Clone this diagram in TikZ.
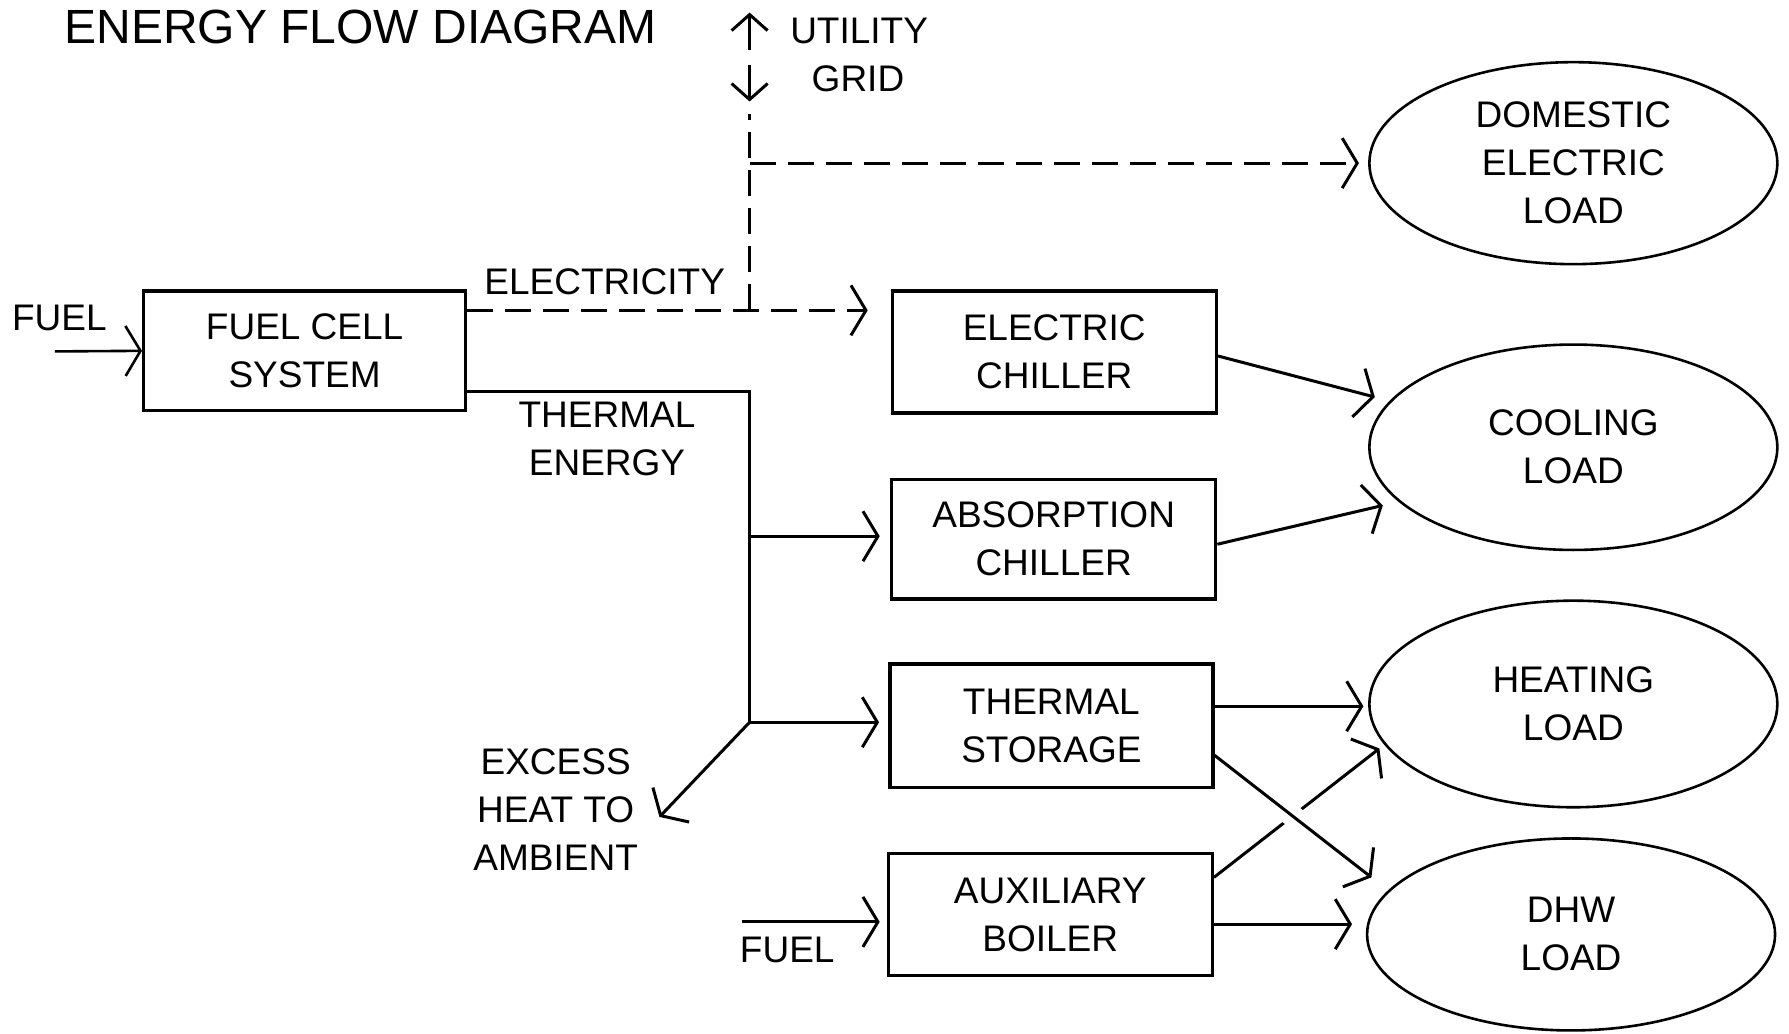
\documentclass[tikz,border=0pt]{standalone}
\usepackage{fontspec}
\setmainfont{Liberation Sans}
\usetikzlibrary{arrows.meta,shapes.geometric,calc}
\begin{document}
\begin{tikzpicture}[x=0.5705pt,y=-0.5705pt,
  txt/.style={font=\fontsize{18.5}{24}\selectfont, align=center, inner sep=0pt},
  box/.style={draw, line width=1.7pt, minimum width=162pt, minimum height=61pt, inner sep=0pt, align=center, font=\fontsize{18.5}{24}\selectfont},
  load/.style={draw, ellipse, line width=1.3pt, minimum width=204pt, minimum height=102pt, inner sep=0pt, align=center, font=\fontsize{18.5}{24}\selectfont},
  conn/.style={line width=1.5pt},
  flow/.style={conn, -{Straight Barb[length=7.5pt,width=25pt]}},
  smallflow/.style={conn, -{Straight Barb[length=8pt,width=18pt]}},
  elec/.style={dash pattern=on 13pt off 6pt}]
\useasboundingbox (0,0) rectangle (1568,906);

% title and labels
\node[inner sep=0pt, font=\fontsize{24}{28}\selectfont] (title) at (316,24) {ENERGY FLOW DIAGRAM};
\node[txt] (utility) at (753,27) {UTILITY};
\node[txt] (grid) at (752,69) {GRID};
\node[txt] (elabel) at (530,247) {ELECTRICITY};
\node[txt] (fuel1lbl) at (52,279) {FUEL};
\node[txt] (thlabel) at (532,385) {THERMAL\\ENERGY};
\node[txt] (excess) at (487,710) {EXCESS\\HEAT TO\\AMBIENT};
\node[txt] (fuel2lbl) at (690,833) {FUEL};

% boxes
\node[box, minimum width=160.9pt, minimum height=59.9pt] (fc) at (267,307.5) {FUEL CELL\\SYSTEM};
\node[box] (ec) at (924,308.5) {ELECTRIC\\CHILLER};
\node[box, minimum height=59.9pt] (ab) at (923.5,472.5) {ABSORPTION\\CHILLER};
\node[box, minimum width=161.5pt, minimum height=61.6pt] (ts) at (921.5,636) {THERMAL\\STORAGE};
\node[box] (aux) at (920.5,801.5) {AUXILIARY\\BOILER};

% loads
\node[load, minimum height=101pt] (dom) at (1379,143) {DOMESTIC\\ELECTRIC\\LOAD};
\node[load, minimum height=102.7pt] (cool) at (1379,392) {COOLING\\LOAD};
\node[load, minimum height=103.3pt] (heat) at (1379,617) {HEATING\\LOAD};
\node[load, minimum height=96pt] (dhw) at (1377,819) {DHW\\LOAD};

% junctions and free ends
\coordinate (up0) at (657,44);
\coordinate (up1) at (657,11);
\coordinate (dn0) at (657,57);
\coordinate (dn1) at (657,89);
\coordinate (gb) at (657,100);
\coordinate (gc) at (657,143);
\coordinate (ej) at (657,272);
\coordinate (tj1) at (657,343);
\coordinate (tj2) at (657,470);
\coordinate (tj3) at (657,633);
\coordinate (ex) at (578,716);
\coordinate (f1) at (48,308);
\coordinate (f2) at (650,808);

% utility grid
\draw[smallflow] (up0) -- (up1);
\draw[smallflow] (dn0) -- (dn1);
\draw[conn, elec] (ej) -- (gb);
\draw[flow, elec] (gc) -- ($(dom.west)+(-8,0)$);

% fuel in
\draw[flow, line width=1.3pt] (f1) -- (fc.west);

% electricity
\draw[flow, elec] ($(fc.east)+(0,-35.5)$) -- ($(ec.west)+(-20,-36.5)$);

% thermal energy
\draw[conn] ($(fc.east)+(0,35.5)$) -- (tj1) -- (tj3);
\draw[flow] (tj2) -- ($(ab.west)+(-9,-2.5)$);
\draw[flow] (tj3) -- ($(ts.west)+(-8,-3)$);
\draw[flow] (tj3) -- (ex);

% fuel to boiler
\draw[flow] (f2) -- ($(aux.west)+(-6,6.5)$);

% to loads
\draw[flow] ($(ec.east)+(0,3.5)$) -- ($(cool.center)+(-174,-44)$);
\draw[flow] ($(ab.east)+(0,4.5)$) -- ($(cool.center)+(-167,51)$);
\draw[flow] ($(ts.east)+(0,-17)$) -- ($(heat.center)+(-184,2)$);
\draw[flow] ($(aux.east)+(0,-32.5)$) -- ($(heat.center)+(-170,39)$);
\coordinate (tsd0) at ($(ts.east)+(0,26)$);
\coordinate (tsd1) at ($(dhw.center)+(-175,-50)$);
\draw[white, line width=11pt] ($(tsd0)!0.42!(tsd1)$) -- ($(tsd0)!0.58!(tsd1)$);
\draw[flow] (tsd0) -- (tsd1);
\draw[flow] ($(aux.east)+(0,8.5)$) -- ($(dhw.center)+(-192,-9)$);
\end{tikzpicture}
\end{document}
